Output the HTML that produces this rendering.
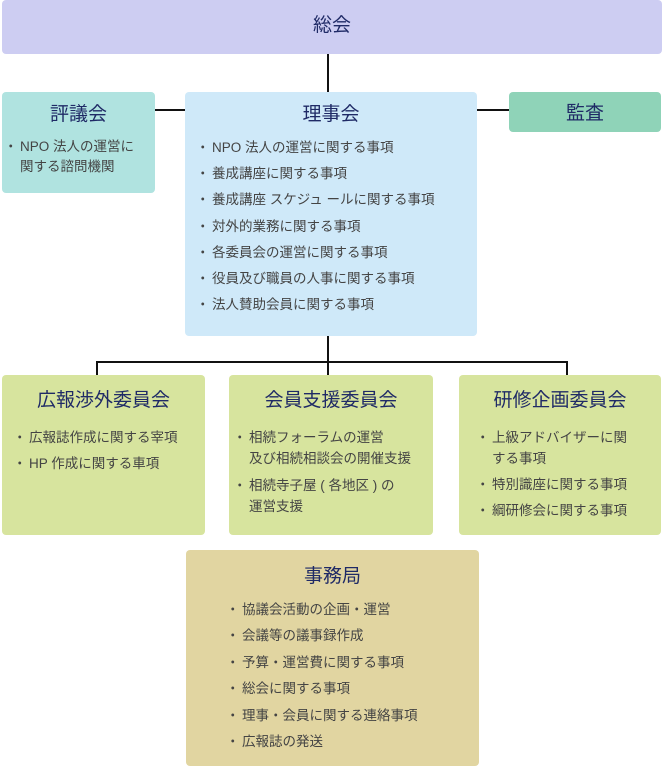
<!DOCTYPE html>
<html><head><meta charset="utf-8"><style>
body{margin:0;width:664px;height:767px;background:#fff;position:relative;font-family:"Liberation Sans","Noto Sans CJK JP",sans-serif;overflow:hidden}
.b{position:absolute;border-radius:4px;box-sizing:border-box}
.t{color:#1f2a66;font-size:19px;text-align:center}
.l{position:absolute;background:#111}
ul{list-style:none;margin:0;padding:0;color:#444;font-size:13.5px}
li{position:relative;padding-left:14px}
li:before{content:"・";position:absolute;left:-2px}
</style></head><body>
<div class="l" style="left:327px;top:54px;width:2px;height:38px"></div>
<div class="l" style="left:155px;top:109px;width:30px;height:2px"></div>
<div class="l" style="left:477px;top:109px;width:32px;height:2px"></div>
<div class="l" style="left:327px;top:336px;width:2px;height:26px"></div>
<div class="l" style="left:96px;top:361px;width:472px;height:2px"></div>
<div class="l" style="left:96px;top:361px;width:2px;height:14px"></div>
<div class="l" style="left:327px;top:361px;width:2px;height:14px"></div>
<div class="l" style="left:566px;top:361px;width:2px;height:14px"></div>

<div class="b" style="left:2px;top:0;width:660px;height:54px;background:#cdcdf2"><div class="t" style="line-height:52px">総会</div></div>

<div class="b" style="left:2px;top:92px;width:153px;height:101px;background:#b0e3e0">
<div class="t" style="margin-top:10px;line-height:26px">評議会</div>
<ul style="margin:9px 0 0 4px;line-height:20px"><li>NPO 法人の運営に<br>関する諮問機関</li></ul></div>

<div class="b" style="left:185px;top:92px;width:292px;height:244px;background:#cfe9f9">
<div class="t" style="margin-top:10px;line-height:26px">理事会</div>
<ul style="margin:7px 0 0 13px;line-height:26.2px">
<li>NPO 法人の運営に関する事項</li><li>養成講座に関する事項</li><li>養成講座 スケジュ ールに関する事項</li><li>対外的業務に関する事項</li><li>各委員会の運営に関する事項</li><li>役員及び職員の人事に関する事項</li><li>法人賛助会員に関する事項</li></ul></div>

<div class="b" style="left:509px;top:92px;width:152px;height:40px;background:#8fd3b8"><div class="t" style="line-height:44px">監査</div></div>

<div class="b" style="left:2px;top:375px;width:203px;height:160px;background:#d7e49e">
<div class="t" style="margin-top:13px;line-height:26px">広報渉外委員会</div>
<ul style="margin:11px 0 0 13px;line-height:26px"><li>広報誌作成に関する宰項</li><li>HP 作成に関する車項</li></ul></div>

<div class="b" style="left:229px;top:375px;width:204px;height:160px;background:#d7e49e">
<div class="t" style="margin-top:13px;line-height:26px">会員支援委員会</div>
<ul style="margin:13px 0 0 6px;line-height:21px"><li>相続フォーラムの運営<br>及び相続相談会の開催支援</li><li style="margin-top:6px">相続寺子屋 ( 各地区 ) の<br>運営支援</li></ul></div>

<div class="b" style="left:459px;top:375px;width:202px;height:160px;background:#d7e49e">
<div class="t" style="margin-top:13px;line-height:26px">研修企画委員会</div>
<ul style="margin:13px 0 0 19px;line-height:21px"><li>上級アドバイザーに関<br>する事項</li><li style="margin-top:5px">特別識座に関する事項</li><li style="margin-top:5px">綱研修会に関する事項</li></ul></div>

<div class="b" style="left:186px;top:550px;width:293px;height:216px;background:#e1d5a1">
<div class="t" style="margin-top:14px;line-height:26px">事務局</div>
<ul style="margin:7px 0 0 42px;line-height:26.4px"><li>協議会活動の企画・運営</li><li>会議等の議事録作成</li><li>予算・運営費に関する事項</li><li>総会に関する事項</li><li>理事・会員に関する連絡事項</li><li>広報誌の発送</li></ul></div>
</body></html>
